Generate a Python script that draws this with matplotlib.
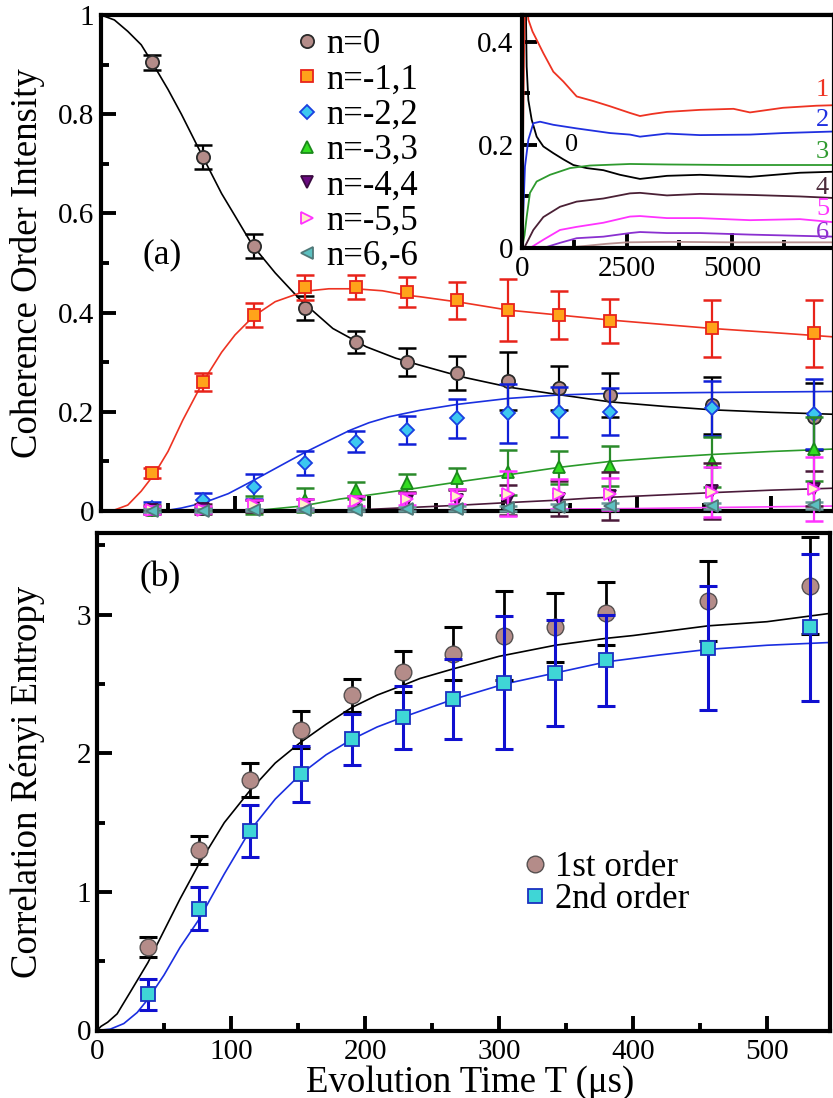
import matplotlib
matplotlib.use("Agg")
import matplotlib.pyplot as plt
from matplotlib.lines import Line2D
from matplotlib.ticker import MultipleLocator, FuncFormatter

plt.rcParams['font.family'] = ['Liberation Serif', 'DejaVu Serif']

# ---------------- data: panel (a) ----------------
T = [38, 76, 114, 152, 190, 228, 266, 304, 342, 380, 456, 532]

n0 = [0.905, 0.714, 0.535, 0.41, 0.34, 0.30, 0.278, 0.262, 0.248, 0.234, 0.213, 0.19]
n0_err = [0.015, 0.024, 0.024, 0.024, 0.022, 0.028, 0.035, 0.058, 0.044, 0.045, 0.057, 0.068]
n1 = [0.077, 0.26, 0.395, 0.451, 0.451, 0.442, 0.425, 0.405, 0.395, 0.383, 0.368, 0.358]
n1_err = [0.01, 0.018, 0.025, 0.025, 0.024, 0.03, 0.037, 0.062, 0.048, 0.044, 0.058, 0.068]
n2 = [0.007, 0.022, 0.049, 0.097, 0.14, 0.163, 0.187, 0.197, 0.2, 0.2, 0.207, 0.196]
n2_err = [0.012, 0.015, 0.025, 0.024, 0.022, 0.028, 0.039, 0.06, 0.05, 0.047, 0.055, 0.07]
n3 = [0.003, 0.004, 0.012, 0.022, 0.042, 0.056, 0.066, 0.078, 0.088, 0.091, 0.099, 0.125]
n3_err = [0.005, 0.005, 0.018, 0.024, 0.017, 0.019, 0.021, 0.045, 0.033, 0.04, 0.05, 0.065]
n4 = [0.003, 0.004, 0.01, 0.012, 0.015, 0.02, 0.022, 0.022, 0.025, 0.03, 0.04, 0.045]
n4_err = [0.01, 0.01, 0.012, 0.012, 0.015, 0.018, 0.02, 0.03, 0.035, 0.048, 0.057, 0.035]
n5 = [0.002, 0.003, 0.012, 0.015, 0.02, 0.025, 0.03, 0.035, 0.035, 0.035, 0.038, 0.044]
n5_err = [0.008, 0.008, 0.01, 0.01, 0.01, 0.012, 0.015, 0.045, 0.03, 0.032, 0.05, 0.065]
n6 = [0.001, 0.001, 0.002, 0.003, 0.003, 0.004, 0.005, 0.006, 0.008, 0.01, 0.01, 0.012]
n6_err = [0.003, 0.003, 0.003, 0.003, 0.004, 0.004, 0.005, 0.005, 0.006, 0.006, 0.006, 0.007]

labels_a = ["n=0", "n=-1,1", "n=-2,2", "n=-3,3", "n=-4,4", "n=-5,5", "n=6,-6"]

# fitted curves, panel (a)
fit0_T = [0, 10, 20, 30, 38, 50, 60, 76, 90, 100, 113, 130, 149, 173, 198, 220, 238, 270, 306, 343, 380, 420, 456, 500, 547]
fit0_y = [1.0, 0.99, 0.967, 0.94, 0.905, 0.85, 0.80, 0.714, 0.64, 0.595, 0.536, 0.48, 0.425, 0.368, 0.331, 0.308, 0.294, 0.27, 0.249, 0.234, 0.22, 0.211, 0.204, 0.199, 0.195]
fit1_T = [0, 10, 20, 30, 40, 50, 61, 76, 90, 100, 114, 130, 152, 170, 190, 210, 228, 238, 270, 304, 342, 380, 420, 456, 500, 547]
fit1_y = [0.0, 0.002, 0.012, 0.04, 0.075, 0.12, 0.183, 0.26, 0.32, 0.355, 0.393, 0.422, 0.443, 0.448, 0.448, 0.444, 0.435, 0.432, 0.42, 0.405, 0.395, 0.385, 0.376, 0.368, 0.36, 0.351]
fit2_T = [0, 40, 49, 60, 76, 95, 114, 133, 152, 170, 186, 200, 215, 238, 266, 304, 342, 380, 456, 547]
fit2_y = [0.0, 0.0, 0.001, 0.006, 0.016, 0.035, 0.062, 0.09, 0.118, 0.142, 0.163, 0.178, 0.19, 0.203, 0.215, 0.227, 0.234, 0.237, 0.239, 0.241]
fit3_T = [100, 120, 150, 178, 210, 238, 270, 304, 342, 380, 420, 456, 500, 547]
fit3_y = [0.0, 0.002, 0.01, 0.024, 0.036, 0.047, 0.06, 0.073, 0.088, 0.1, 0.108, 0.114, 0.12, 0.125]
fit4_T = [170, 190, 238, 270, 304, 342, 365, 400, 456, 500, 547]
fit4_y = [0.0, 0.002, 0.008, 0.012, 0.017, 0.022, 0.026, 0.03, 0.037, 0.042, 0.046]
fit5_T = [250, 300, 357, 400, 456, 547]
fit5_y = [0.0, 0.001, 0.004, 0.005, 0.007, 0.01]

# ---------------- data: inset ----------------
in1_T = [0, 30, 60, 100, 151, 250, 349, 508, 746, 984, 1302, 1700, 2095, 2571, 2810, 3095, 3452, 4240, 5036, 5429, 6214, 7007, 7430]
in1_y = [0.0, 0.25, 0.45, 0.5, 0.443, 0.42, 0.404, 0.378, 0.342, 0.323, 0.294, 0.285, 0.275, 0.262, 0.256, 0.26, 0.264, 0.268, 0.27, 0.263, 0.272, 0.276, 0.277]
in0_T = [0, 50, 95, 111, 151, 230, 349, 508, 746, 984, 1222, 1540, 1937, 2333, 2571, 2810, 3452, 4238, 5429, 6620, 7430]
in0_y = [1.0, 0.7, 0.45, 0.352, 0.287, 0.249, 0.216, 0.197, 0.184, 0.172, 0.161, 0.155, 0.151, 0.142, 0.138, 0.134, 0.14, 0.142, 0.138, 0.146, 0.148]
in2_T = [0, 40, 71, 151, 270, 429, 746, 1302, 2095, 2571, 2810, 3452, 4238, 5429, 6223, 7430]
in2_y = [0.0, 0.09, 0.158, 0.21, 0.242, 0.245, 0.239, 0.232, 0.223, 0.22, 0.216, 0.222, 0.219, 0.22, 0.223, 0.226]
in3_T = [0, 60, 111, 190, 349, 667, 1143, 1619, 2571, 3500, 5000, 7430]
in3_y = [0.0, 0.025, 0.06, 0.107, 0.129, 0.142, 0.155, 0.16, 0.163, 0.162, 0.161, 0.161]
in4_T = [0, 71, 270, 508, 905, 1302, 1937, 2571, 2810, 3452, 4238, 5429, 6620, 7430]
in4_y = [0.0, 0.003, 0.035, 0.06, 0.08, 0.09, 0.096, 0.106, 0.107, 0.102, 0.105, 0.103, 0.1, 0.097]
in5_T = [0, 190, 508, 905, 1302, 1937, 2571, 2810, 3452, 4238, 5429, 6620, 7430]
in5_y = [0.0, 0.0, 0.016, 0.035, 0.041, 0.049, 0.061, 0.062, 0.058, 0.058, 0.054, 0.056, 0.05]
in6_T = [0, 508, 905, 1302, 1937, 2571, 2810, 3452, 4238, 5429, 7430]
in6_y = [0.0, 0.0, 0.01, 0.019, 0.022, 0.029, 0.031, 0.029, 0.029, 0.026, 0.022]
in7_T = [0, 1000, 1500, 2000, 2500, 3500, 5000, 7430]
in7_y = [0.0, 0.0, 0.004, 0.008, 0.011, 0.012, 0.011, 0.011]
inset_labels = ["0", "1", "2", "3", "4", "5", "6"]

# ---------------- data: panel (b) ----------------
b1 = [0.60, 1.30, 1.81, 2.17, 2.42, 2.59, 2.72, 2.85, 2.91, 3.01, 3.10, 3.21]
b1_err = [0.073, 0.1, 0.122, 0.133, 0.12, 0.149, 0.19, 0.32, 0.25, 0.23, 0.29, 0.35]
b2 = [0.26, 0.88, 1.44, 1.85, 2.10, 2.26, 2.39, 2.51, 2.58, 2.67, 2.76, 2.91]
b2_err = [0.11, 0.157, 0.19, 0.2, 0.186, 0.229, 0.29, 0.48, 0.38, 0.33, 0.45, 0.53]
labels_b = ["1st order", "2nd order"]
fitb1_T = [0, 3, 8, 15, 25, 38, 50, 62, 76, 95, 114, 133, 152, 171, 190, 209, 228, 241, 266, 300, 342, 380, 400, 456, 500, 547]
fitb1_y = [0.0, 0.03, 0.06, 0.12, 0.28, 0.49, 0.72, 0.95, 1.2, 1.5, 1.73, 1.93, 2.08, 2.21, 2.33, 2.42, 2.49, 2.54, 2.61, 2.70, 2.78, 2.83, 2.85, 2.92, 2.95, 3.01]
fitb2_T = [0, 10, 20, 30, 38, 50, 62, 76, 95, 114, 133, 152, 171, 190, 209, 228, 266, 304, 342, 380, 420, 456, 500, 547]
fitb2_y = [0.0, 0.01, 0.05, 0.13, 0.226, 0.4, 0.6, 0.8, 1.13, 1.44, 1.67, 1.85, 1.99, 2.10, 2.19, 2.26, 2.39, 2.50, 2.58, 2.66, 2.71, 2.75, 2.78, 2.80]

# ---------------- layout & styles ----------------
W, H = 833, 1098
fig = plt.figure(figsize=(W / 100, H / 100), dpi=100)


def box(l, t, r, b):
    return [l / W, 1 - b / H, (r - l) / W, (b - t) / H]


axa = fig.add_axes(box(101, 15, 834, 511))
axb = fig.add_axes(box(97, 533, 830, 1030.5))
axi = fig.add_axes(box(522, 15, 834, 248))

TICK_FS = 21
LABEL_FS = 26.5
LEG_FS = 25
SPINE_W = 3.0


def style_axes(ax):
    for s in ax.spines.values():
        s.set_linewidth(SPINE_W)
    ax.tick_params(which='both', direction='in', width=2.8, labelsize=TICK_FS,
                   top=False, right=False)
    ax.tick_params(which='major', length=11)
    ax.tick_params(which='minor', length=6)


fmt = FuncFormatter(lambda v, p: f"{v:g}")

series_a = [(n0, n0_err), (n1, n1_err), (n2, n2_err), (n3, n3_err),
            (n4, n4_err), (n5, n5_err), (n6, n6_err)]
sty_a = [
    dict(marker='o', mfc='#b48c89', mec='#2a2a2a', ec='black', ms=9.5),
    dict(marker='s', mfc='#ffa31a', mec='#e8231a', ec='#e8231a', ms=9),
    dict(marker='D', mfc='#3cc8f0', mec='#1a40e0', ec='#1020d8', ms=7.5),
    dict(marker='^', mfc='#33dd22', mec='#1a8a1a', ec='#2a8a2a', ms=9),
    dict(marker='v', mfc='#6a0a80', mec='#3a0a40', ec='#4a1a3a', ms=9),
    dict(marker='>', mfc='#fff2c8', mec='#ff33ff', ec='#ff33ff', ms=9),
    dict(marker='<', mfc='#5cc0c0', mec='#507878', ec='#6a9a9a', ms=9),
]
fits_a = [(fit0_T, fit0_y, 'black'), (fit1_T, fit1_y, '#ee3322'),
          (fit2_T, fit2_y, '#1a30e0'), (fit3_T, fit3_y, '#2a9a2a'),
          (fit4_T, fit4_y, '#4a1a3a'), (fit5_T, fit5_y, '#ff40ff')]

# ---------------- panel (a) ----------------
for fx, fy, c in fits_a:
    axa.plot(fx, fy, color=c, lw=1.2, zorder=2)

for k, ((v, e), s) in enumerate(zip(series_a, sty_a)):
    axa.errorbar(T, v, yerr=e, fmt='none', ecolor=s['ec'], elinewidth=1.6,
                 capsize=6.5, capthick=1.8, zorder=3 + k, clip_on=False)
    axa.plot(T, v, ls='none', marker=s['marker'], mfc=s['mfc'], mec=s['mec'],
             ms=s['ms'], mew=1.3, zorder=3.5 + k, clip_on=False)

axa.set_xlim(0, 547)
axa.set_ylim(0, 1)
axa.xaxis.set_major_locator(MultipleLocator(100))
axa.xaxis.set_minor_locator(MultipleLocator(50))
axa.yaxis.set_major_locator(MultipleLocator(0.2))
axa.yaxis.set_minor_locator(MultipleLocator(0.1))
axa.yaxis.set_major_formatter(fmt)
style_axes(axa)
axa.tick_params(axis='x', labelbottom=False)
axa.tick_params(axis='y', pad=5)
axa.set_ylabel("Coherence Order Intensity", fontsize=LABEL_FS)
axa.yaxis.set_label_coords(-0.0764, 0.5)
axa.text(0.083, 0.516, "(a)", transform=axa.transAxes, fontsize=LABEL_FS - 1,
         ha='center', va='center')

handles_a = [Line2D([], [], ls='none', marker=s['marker'], mfc=s['mfc'],
                    mec=s['mec'], ms=s['ms'], mew=1.3) for s in sty_a]
axa.legend(handles_a, labels_a, loc='upper left', bbox_to_anchor=(0.267, 0.973),
           frameon=False, fontsize=LEG_FS, handlelength=0.6, handletextpad=0.25,
           labelspacing=0.065, borderpad=0, borderaxespad=0)

# ---------------- inset ----------------
inset_lines = [(in0_T, in0_y, 'black'), (in1_T, in1_y, '#ee3322'),
               (in2_T, in2_y, '#2030e0'), (in3_T, in3_y, '#2e9a2e'),
               (in4_T, in4_y, '#4a2035'), (in5_T, in5_y, '#ff33ff'),
               (in6_T, in6_y, '#8a30d0'), (in7_T, in7_y, '#b89090')]
for x, y, c in inset_lines:
    axi.plot(x, y, color=c, lw=1.3)
axi.set_xlim(0, 7430)
axi.set_ylim(0, 0.452)
axi.xaxis.set_major_locator(MultipleLocator(2500))
axi.xaxis.set_minor_locator(MultipleLocator(1250))
axi.yaxis.set_major_locator(MultipleLocator(0.2))
axi.yaxis.set_minor_locator(MultipleLocator(0.1))
axi.yaxis.set_major_formatter(fmt)
axi.xaxis.set_major_formatter(fmt)
style_axes(axi)
axi.tick_params(axis='y', pad=6)
axi.tick_params(axis='x', pad=6)
axi.set_facecolor('white')

lab_pos = [(1024, 0.2), (7000, 0.307), (7000, 0.249), (7000, 0.186),
           (7000, 0.117), (7000, 0.076), (7000, 0.029)]
lab_col = ['black', '#ee3322', '#2030e0', '#2e9a2e', '#4a2a3a', '#ff33ff', '#9030d0']
for (x, y), t, c in zip(lab_pos, inset_labels, lab_col):
    axi.text(x, y, t, color=c, fontsize=19, ha='left', va='center', clip_on=False)

# ---------------- panel (b) ----------------
axb.plot(fitb1_T, fitb1_y, color='black', lw=1.2, zorder=2)
axb.plot(fitb2_T, fitb2_y, color='#1a2ee0', lw=1.2, zorder=2)
axb.errorbar(T, b1, yerr=b1_err, fmt='none', ecolor='black', elinewidth=2.0,
             capsize=6.2, capthick=2.2, zorder=3)
axb.plot(T, b1, ls='none', marker='o', mfc='#b48c89', mec='#555050', ms=12,
         mew=1.0, zorder=4)
axb.errorbar(T, b2, yerr=b2_err, fmt='none', ecolor='#1010d0', elinewidth=2.2,
             capsize=6.2, capthick=2.2, zorder=5)
axb.plot(T, b2, ls='none', marker='s', mfc='#3fd6d6', mec='#1a30c0', ms=9.5,
         mew=1.3, zorder=6)

axb.set_xlim(0, 547)
axb.set_ylim(0, 3.59)
axb.xaxis.set_major_locator(MultipleLocator(100))
axb.xaxis.set_minor_locator(MultipleLocator(50))
axb.yaxis.set_major_locator(MultipleLocator(1))
axb.yaxis.set_minor_locator(MultipleLocator(0.5))
style_axes(axb)
axb.tick_params(axis='x', pad=6)
axb.tick_params(axis='y', pad=4)
axb.set_ylabel("Correlation Rényi Entropy", fontsize=LABEL_FS)
axb.yaxis.set_label_coords(-0.0709, 0.5)
axb.set_xlabel("Evolution Time T (μs)", fontsize=LABEL_FS)
axb.xaxis.set_label_coords(0.509, -0.07)
axb.text(0.086, 0.911, "(b)", transform=axb.transAxes, fontsize=LABEL_FS - 1,
         ha='center', va='center')

handles_b = [Line2D([], [], ls='none', marker='o', mfc='#b48c89', mec='#555050', ms=12, mew=1.0),
             Line2D([], [], ls='none', marker='s', mfc='#3fd6d6', mec='#1a30c0', ms=9.5, mew=1.3)]
axb.legend(handles_b, labels_b, loc='upper left', bbox_to_anchor=(0.583, 0.36),
           frameon=False, fontsize=LEG_FS, handlelength=0.6, handletextpad=0.28,
           labelspacing=-0.03, borderpad=0, borderaxespad=0)

fig.savefig("out.png", dpi=100)
